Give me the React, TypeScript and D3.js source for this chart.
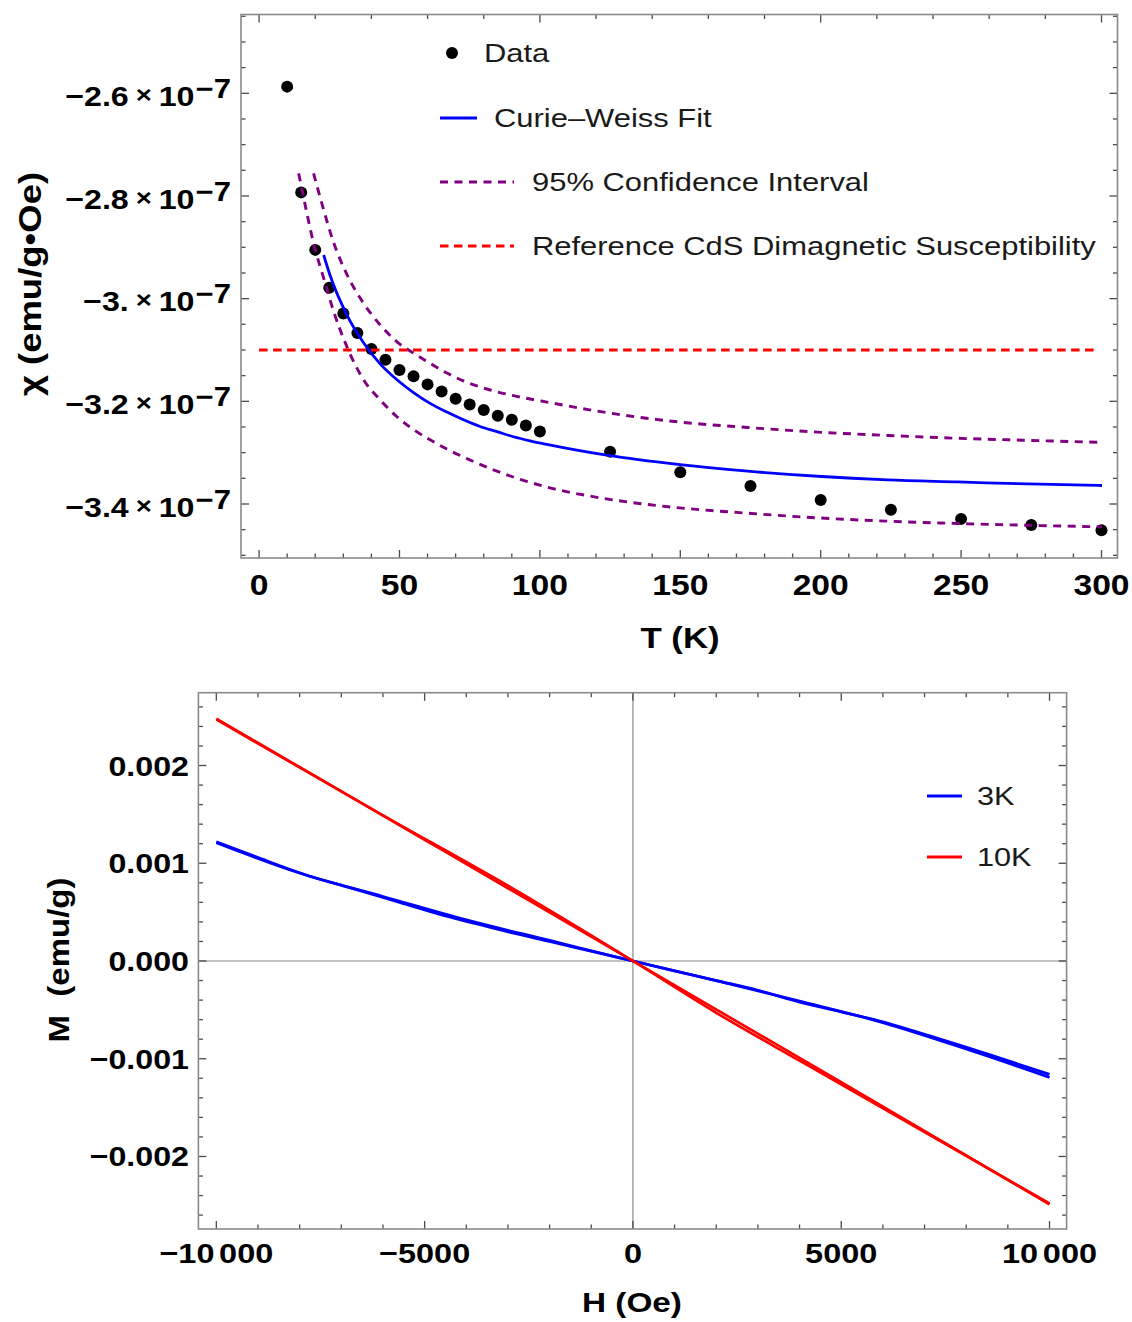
import React from 'react';
import * as d3 from 'd3';

const FONT = "'Liberation Sans', Arial, Helvetica, sans-serif";

// ---------- Top chart: susceptibility vs temperature (chi in units of 1e-7 emu/g·Oe) ----------
const tempK = [10, 15, 20, 25, 30, 35, 40, 45, 50, 55, 60, 65, 70, 75, 80, 85, 90, 95, 100, 125, 150, 175, 200, 225, 250, 275, 300];
const chiData = [-2.587, -2.793, -2.905, -2.979, -3.029, -3.067, -3.098, -3.119, -3.139, -3.151, -3.167, -3.181, -3.195, -3.206, -3.217, -3.228, -3.236, -3.247, -3.259, -3.298, -3.338, -3.365, -3.392, -3.411, -3.429, -3.441, -3.451];

const fitT = [23.0, 25.3, 31.3, 37.2, 43.1, 49.1, 55.0, 60.9, 66.9, 72.8, 78.7, 84.7, 90.6, 96.5, 102.5, 123.8, 149.1, 174.0, 198.9, 223.9, 248.9, 273.8, 300.2];
const fitChi = [-2.915, -2.955, -3.032, -3.086, -3.127, -3.158, -3.183, -3.204, -3.221, -3.236, -3.249, -3.259, -3.269, -3.277, -3.284, -3.305, -3.323, -3.336, -3.346, -3.353, -3.357, -3.361, -3.364];

const upperT = [19.4, 23.0, 26.5, 31.3, 37.2, 43.1, 49.1, 55.0, 60.9, 66.9, 74.0, 81.1, 90.6, 100.1, 123.8, 149.1, 174.1, 198.9, 223.9, 248.9, 273.8, 300.2];
const upperChi = [-2.756, -2.827, -2.890, -2.953, -3.009, -3.051, -3.084, -3.106, -3.126, -3.145, -3.163, -3.176, -3.189, -3.199, -3.222, -3.240, -3.251, -3.260, -3.2665, -3.272, -3.276, -3.280];

const lowerT = [14.1, 17.0, 19.4, 23.0, 26.5, 31.3, 37.2, 43.1, 49.1, 55.0, 60.9, 66.9, 75.0, 84.7, 93.0, 102.5, 120.3, 141.7, 174.1, 198.9, 223.9, 248.9, 273.8, 300.2];
const lowerChi = [-2.756, -2.833, -2.892, -2.960, -3.024, -3.094, -3.158, -3.197, -3.230, -3.255, -3.275, -3.293, -3.314, -3.336, -3.352, -3.367, -3.387, -3.403, -3.418, -3.427, -3.4335, -3.438, -3.4415, -3.4445];

const refT = [0, 298];
const refChi = [-3.1, -3.1];

const topXTicks = [0, 50, 100, 150, 200, 250, 300];
const topXTickLabels = ['0', '50', '100', '150', '200', '250', '300'];
const topYTicks = [-2.6, -2.8, -3.0, -3.2, -3.4];
const topYTickLabels = ['\u22122.6', '\u22122.8', '\u22123.', '\u22123.2', '\u22123.4'];
const topLegendLabels = ['Data', 'Curie\u2013Weiss Fit', '95% Confidence Interval', 'Reference CdS Dimagnetic Susceptibility'];

// ---------- Bottom chart: M vs H ----------
const h3A = [-10000, -8950, -7850, -6800, -5600, -4400, -3200, -2000, -800, 0, 1000, 2000, 3000, 4000, 5000, 5700, 7000, 8500, 10000];
const m3A = [0.00122, 0.00105, 0.00088, 0.00075, 0.00060, 0.00045, 0.00032, 0.00020, 0.00008, 0.0, -0.00010, -0.00020, -0.00030, -0.00042, -0.00052, -0.00059, -0.00075, -0.00095, -0.00116];
const h3B = [-10000, -8000, -6000, -4000, -2000, 0, 2000, 4000, 6000, 8000, 10000];
const m3B = [0.00121, 0.00090, 0.00066, 0.00042, 0.00021, 0.0, -0.00020, -0.00041, -0.00063, -0.00090, -0.00119];
const h10A = [-10000, -5000, 0, 5000, 10000];
const m10A = [0.00248, 0.00124, 0.0, -0.00124, -0.00249];
const h10B = [-10000, -6000, -3000, 0, 2000, 4000, 7000, 10000];
const m10B = [0.00247, 0.00149, 0.00077, 0.0, -0.00053, -0.00102, -0.00175, -0.00248];

const botXTicks = [-10000, -5000, 0, 5000, 10000];
// [leading part, trailing thousands group] — rendered with a small gap between
const botXTickLabels: [string, string][] = [['\u221210', '000'], ['\u22125000', ''], ['0', ''], ['5000', ''], ['10', '000']];
const botYTicks = [0.002, 0.001, 0, -0.001, -0.002];
const botYTickLabels = ['0.002', '0.001', '0.000', '\u22120.001', '\u22120.002'];
const botLegendLabels = ['3K', '10K'];

const FRAME = '#8a8a8a';
const TICK = '#4a4a4a';

type Sc = d3.ScaleLinear<number, number>;

function SText({ x, y, sx = 1.18, rot = 0, anchor = 'start', size = 28, bold = false, fill = '#000', children }: {
  x: number; y: number; sx?: number; rot?: number; anchor?: string; size?: number; bold?: boolean; fill?: string; children: React.ReactNode;
}) {
  return (
    <text
      transform={`translate(${x},${y})${rot ? ` rotate(${rot})` : ''} scale(${sx},1)`}
      textAnchor={anchor as any}
      fontFamily={FONT}
      fontSize={size}
      fontWeight={bold ? 'bold' : 'normal'}
      fill={fill}
      xmlSpace="preserve"
    >
      {children}
    </text>
  );
}

function FrameTicks({ x, y, xMaj, xMin, yMaj, yMin, xTopMaj, xTopMin }: {
  x: Sc; y: Sc; xMaj: number[]; xMin: number[]; yMaj: number[]; yMin: number[]; xTopMaj: number[]; xTopMin: number[];
}) {
  const [x0, x1] = x.range();
  const [y0, y1] = y.range();
  const M = 8, m = 4.5;
  const els: React.ReactNode[] = [];
  xMaj.forEach((v, i) => els.push(<line key={'bM' + i} x1={x(v)} x2={x(v)} y1={y0} y2={y0 - M} />));
  xMin.forEach((v, i) => els.push(<line key={'bm' + i} x1={x(v)} x2={x(v)} y1={y0} y2={y0 - m} />));
  xTopMaj.forEach((v, i) => els.push(<line key={'tM' + i} x1={x(v)} x2={x(v)} y1={y1} y2={y1 + M} />));
  xTopMin.forEach((v, i) => els.push(<line key={'tm' + i} x1={x(v)} x2={x(v)} y1={y1} y2={y1 + m} />));
  yMaj.forEach((v, i) => {
    els.push(<line key={'lM' + i} x1={x0} x2={x0 + M} y1={y(v)} y2={y(v)} />);
    els.push(<line key={'rM' + i} x1={x1} x2={x1 - M} y1={y(v)} y2={y(v)} />);
  });
  yMin.forEach((v, i) => {
    els.push(<line key={'lm' + i} x1={x0} x2={x0 + m} y1={y(v)} y2={y(v)} />);
    els.push(<line key={'rm' + i} x1={x1} x2={x1 - m} y1={y(v)} y2={y(v)} />);
  });
  return (
    <g>
      <g stroke={TICK} strokeWidth={1.3}>{els}</g>
      <rect x={x0} y={y1} width={x1 - x0} height={y0 - y1} fill="none" stroke={FRAME} strokeWidth={1.6} />
    </g>
  );
}

function minorBetween(lo: number, hi: number, step: number, majors: number[]) {
  const out: number[] = [];
  const n = Math.round((hi - lo) / step);
  for (let i = 0; i <= n; i++) {
    const v = +(lo + i * step).toFixed(8);
    if (!majors.some((mv) => Math.abs(mv - v) < step / 10)) out.push(v);
  }
  return out;
}

const zip = (a: number[], b: number[]) => a.map((v, i) => [v, b[i]] as [number, number]);

function TopChart() {
  const x = d3.scaleLinear().domain([-6.44, 305.7]).range([241, 1117.5]);
  const y = d3.scaleLinear().domain([-3.5052, -2.4465]).range([558, 14.5]);
  const line = d3.line<[number, number]>().x((d) => x(d[0])).y((d) => y(d[1])).curve(d3.curveMonotoneX);

  const xMin = minorBetween(0, 300, 10, topXTicks);
  const yMin = minorBetween(-3.5, -2.45, 0.05, topYTicks);
  const topMaj = [0, 100, 200, 300];
  const topMin = minorBetween(0, 300, 20, topMaj);

  return (
    <g>
      <FrameTicks x={x} y={y} xMaj={topXTicks} xMin={xMin} yMaj={topYTicks} yMin={yMin} xTopMaj={topMaj} xTopMin={topMin} />
      <g>
        {tempK.map((t, i) => (
          <circle key={i} cx={x(t)} cy={y(chiData[i])} r={6} fill="#000" />
        ))}
      </g>
      <path d={line(zip(upperT, upperChi)) || ''} fill="none" stroke="#800080" strokeWidth={2.9} strokeDasharray="8,6.5" />
      <path d={line(zip(lowerT, lowerChi)) || ''} fill="none" stroke="#800080" strokeWidth={2.9} strokeDasharray="8,6.5" />
      <path d={line(zip(fitT, fitChi)) || ''} fill="none" stroke="#0000ff" strokeWidth={2.8} />
      <path d={line(zip(refT, refChi)) || ''} fill="none" stroke="#ff0000" strokeWidth={3} strokeDasharray="8.5,5.5" />

      {topXTicks.map((v, i) => (
        <SText key={'xl' + i} x={x(v)} y={595} anchor="middle" size={29} sx={1.16} bold>{topXTickLabels[i]}</SText>
      ))}
      {topYTicks.map((v, i) => (
        <SText key={'yl' + i} x={231} y={y(v) + 12.7} anchor="end" size={28} sx={1.15} bold>
          {topYTickLabels[i]}
          <tspan fontSize={24} dx={6} dy={-3}>{'\u00d7'}</tspan>
          <tspan dx={6} dy={3}>10</tspan>
          <tspan fontSize={27} dx={1} dy={-8}>{'\u22127'}</tspan>
        </SText>
      ))}
      <SText x={680} y={648} anchor="middle" size={29} sx={1.2} bold>T (K)</SText>
      <SText x={41} y={284} rot={-90} anchor="middle" size={32} sx={1.14} bold>{'\u03c7 (emu/g\u2022Oe)'}</SText>

      {/* legend */}
      <circle cx={452} cy={53} r={6} fill="#000" />
      <SText x={484} y={62} size={26} sx={1.19} fill="#1a1a1a">{topLegendLabels[0]}</SText>
      <line x1={440} x2={477} y1={118} y2={118} stroke="#0000ff" strokeWidth={2.8} />
      <SText x={494} y={127} size={26} sx={1.19} fill="#1a1a1a">{topLegendLabels[1]}</SText>
      <line x1={440} x2={514} y1={182} y2={182} stroke="#800080" strokeWidth={2.9} strokeDasharray="8,6.5" />
      <SText x={532} y={191} size={26} sx={1.19} fill="#1a1a1a">{topLegendLabels[2]}</SText>
      <line x1={440} x2={514} y1={246} y2={246} stroke="#ff0000" strokeWidth={3} strokeDasharray="8.5,5.5" />
      <SText x={532} y={255} size={26} sx={1.19} fill="#1a1a1a">{topLegendLabels[3]}</SText>
    </g>
  );
}

function BottomChart() {
  const x = d3.scaleLinear().domain([-10430, 10410]).range([198.4, 1066.6]);
  const y = d3.scaleLinear().domain([-0.002742, 0.002745]).range([1229, 692.7]);
  const line = d3.line<[number, number]>().x((d) => x(d[0])).y((d) => y(d[1])).curve(d3.curveMonotoneX);

  const xMin = minorBetween(-10000, 10000, 1000, botXTicks);
  const yMin = minorBetween(-0.0026, 0.0026, 0.0002, botYTicks);

  return (
    <g>
      <line x1={x(0)} x2={x(0)} y1={692.7} y2={1229} stroke="#8a8a8a" strokeWidth={1.2} />
      <line x1={198.4} x2={1066.6} y1={y(0)} y2={y(0)} stroke="#8a8a8a" strokeWidth={1.2} />
      <FrameTicks x={x} y={y} xMaj={botXTicks} xMin={xMin} yMaj={botYTicks} yMin={yMin} xTopMaj={botXTicks} xTopMin={xMin} />

      <path d={line(zip(h3A, m3A)) || ''} fill="none" stroke="#0000ff" strokeWidth={2.8} />
      <path d={line(zip(h3B, m3B)) || ''} fill="none" stroke="#0000ff" strokeWidth={2.8} />
      <path d={line(zip(h10A, m10A)) || ''} fill="none" stroke="#ff0000" strokeWidth={2.6} />
      <path d={line(zip(h10B, m10B)) || ''} fill="none" stroke="#ff0000" strokeWidth={2.6} />

      {botXTicks.map((v, i) => (
        <SText key={'bx' + i} x={x(v)} y={1263} anchor="middle" size={28} sx={1.16} bold>
          {botXTickLabels[i][0]}
          {botXTickLabels[i][1] ? <tspan dx={4}>{botXTickLabels[i][1]}</tspan> : null}
        </SText>
      ))}
      {botYTicks.map((v, i) => (
        <SText key={'by' + i} x={189} y={y(v) + 10} anchor="end" size={28} sx={1.15} bold>{botYTickLabels[i]}</SText>
      ))}
      <SText x={632} y={1312} anchor="middle" size={28} sx={1.19} bold>H (Oe)</SText>
      <SText x={69} y={960} rot={-90} anchor="middle" size={30} sx={1.1} bold>{'M  (emu/g)'}</SText>

      <line x1={927} x2={962} y1={796} y2={796} stroke="#0000ff" strokeWidth={2.8} />
      <SText x={977} y={805} size={26} sx={1.18} fill="#1a1a1a">{botLegendLabels[0]}</SText>
      <line x1={927} x2={962} y1={857} y2={857} stroke="#ff0000" strokeWidth={2.8} />
      <SText x={977} y={866} size={26} sx={1.18} fill="#1a1a1a">{botLegendLabels[1]}</SText>
    </g>
  );
}

export default function App() {
  return (
    <svg width={1132} height={1322} viewBox="0 0 1132 1322" style={{ position: 'absolute', left: 0, top: 0, background: '#fff' }}>
      <rect width={1132} height={1322} fill="#fff" />
      <TopChart />
      <BottomChart />
    </svg>
  );
}
